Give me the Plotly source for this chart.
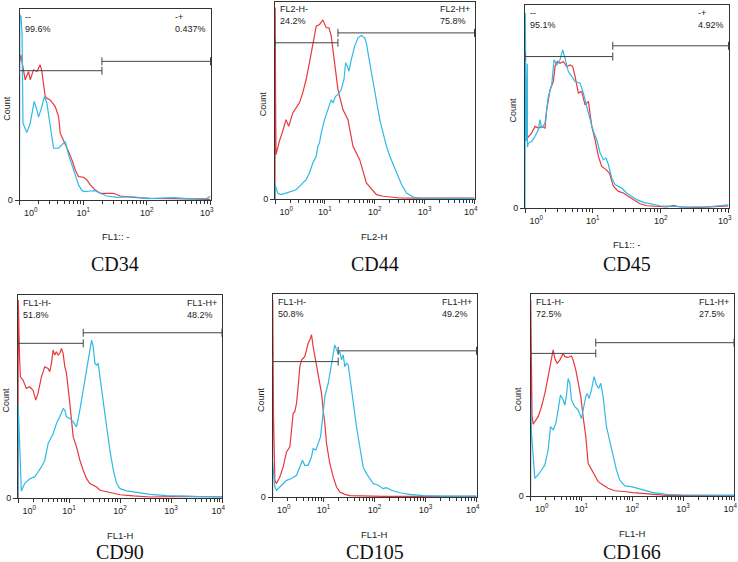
import plotly.graph_objects as go

# ---------------- data (x in log10 decades, y in relative count, box top = 100) ----------------
cd34_red_log = [0.0, 0.021, 0.089, 0.142, 0.168, 0.22, 0.273, 0.325, 0.351, 0.404, 0.43, 0.482, 0.561, 0.614, 0.64, 0.666, 0.718, 0.771, 0.823, 0.876, 0.928, 1.007, 1.059, 1.112, 1.19, 1.269, 1.479, 1.584, 1.793, 2.056, 2.423, 2.842, 3.0]
cd34_red_cnt = [72, 76, 62.9, 67.3, 62.9, 68.2, 67.3, 70.8, 67.3, 54.2, 53.3, 52.4, 48.9, 43.7, 35.0, 33.2, 29.7, 25.3, 21.0, 15.7, 12.2, 11.9, 10.5, 7.9, 5.2, 3.5, 3.5, 2.1, 1.4, 0.9, 0.7, 0.5, 0.3]
cd34_blue_log = [0.0, 0.005, 0.025, 0.04, 0.055, 0.115, 0.168, 0.231, 0.273, 0.299, 0.351, 0.393, 0.43, 0.482, 0.535, 0.614, 0.666, 0.718, 0.771, 0.823, 0.876, 0.928, 0.981, 1.033, 1.112, 1.19, 1.269, 1.374, 1.531, 1.689, 1.793, 2.003, 2.423, 2.632, 2.947, 3.0]
cd34_blue_cnt = [0, 97, 96, 86, 40.2, 35.3, 40.2, 51.6, 47.2, 43.4, 48.9, 54.2, 50.7, 38.5, 27.1, 27.1, 28.8, 30.6, 23.6, 18.4, 14.0, 7.9, 4.9, 4.4, 4.7, 4.9, 3.5, 2.1, 1.4, 1.7, 1.7, 0.7, 1.2, 0.7, 0.9, 2.1]

cd44_red_log = [0, 0.004, 0.012, 0.02, 0.087, 0.154, 0.221, 0.275, 0.356, 0.423, 0.49, 0.557, 0.624, 0.691, 0.758, 0.826, 0.893, 0.96, 1.027, 1.081, 1.128, 1.195, 1.262, 1.362, 1.463, 1.564, 1.698, 1.832, 2.034, 2.168, 2.503, 2.839, 4.0]
cd44_red_cnt = [0, 97, 50, 22.5, 29.2, 34.3, 40.2, 36.8, 43.6, 46.1, 48.7, 53.7, 60.5, 69.0, 79.1, 87.5, 88.4, 90.6, 86.7, 86.7, 82.5, 69.0, 55.4, 45.3, 40.2, 26.7, 19.9, 8.1, 2.2, 1.4, 0.5, 0.4, 0.4]
cd44_blue_log = [0, 0.003, 0.054, 0.121, 0.221, 0.322, 0.423, 0.49, 0.557, 0.624, 0.691, 0.758, 0.826, 0.859, 0.893, 0.926, 0.993, 1.06, 1.128, 1.161, 1.215, 1.262, 1.329, 1.383, 1.416, 1.45, 1.483, 1.53, 1.597, 1.664, 1.732, 1.799, 1.832, 1.899, 1.966, 2.034, 2.101, 2.168, 2.235, 2.302, 2.369, 2.436, 2.537, 2.638, 2.772, 2.906, 3.174, 4.0]
cd44_blue_cnt = [0, 7.3, 3.0, 2.2, 3.0, 3.9, 4.7, 6.4, 8.1, 9.8, 13.2, 18.2, 21.6, 26.7, 28.4, 33.4, 40.2, 45.3, 50.3, 48.6, 52.0, 52.9, 55.4, 60.5, 69.0, 67.3, 64.7, 70.6, 77.4, 81.6, 82.8, 81.6, 79.1, 69.0, 58.8, 50.3, 40.2, 33.4, 26.7, 21.6, 17.4, 13.2, 7.3, 3.0, 1.0, 0.4, 0.3, 0.3]

cd45_red_log = [0.02, 0.049, 0.098, 0.148, 0.197, 0.246, 0.295, 0.32, 0.369, 0.418, 0.443, 0.477, 0.516, 0.566, 0.615, 0.664, 0.703, 0.738, 0.787, 0.836, 0.885, 0.935, 0.984, 1.033, 1.082, 1.131, 1.195, 1.244, 1.303, 1.377, 1.451, 1.525, 1.599, 1.697, 1.795, 1.943, 2.09, 2.189, 2.287, 2.582, 2.976, 3.0]
cd45_red_cnt = [34, 35.3, 36.9, 40.2, 39.4, 40.2, 39.4, 48.4, 58.2, 62.3, 69.7, 72.2, 71.3, 72.2, 69.7, 70.5, 69.7, 64.8, 56.6, 57.4, 50.8, 52.5, 40.2, 33.6, 25.4, 20.5, 18.9, 17.2, 10.7, 8.2, 7.4, 5.7, 4.1, 2.1, 1.1, 0.8, 0.5, 1.3, 0.5, 0.3, 0.8, 1.0]
cd45_blue_log = [0, 0.004, 0.02, 0.034, 0.036, 0.049, 0.098, 0.148, 0.197, 0.221, 0.246, 0.295, 0.344, 0.394, 0.428, 0.467, 0.516, 0.556, 0.59, 0.639, 0.689, 0.738, 0.812, 0.861, 0.91, 0.959, 1.008, 1.058, 1.107, 1.156, 1.195, 1.23, 1.279, 1.328, 1.377, 1.426, 1.5, 1.574, 1.648, 1.746, 1.845, 1.992, 2.189, 2.386, 2.681, 2.976, 3.0]
cd45_blue_cnt = [0, 96, 33, 71, 30, 32.0, 32.8, 35.3, 38.5, 43.5, 39.4, 41.8, 54.9, 60.7, 73.0, 70.5, 73.0, 77.9, 73.8, 67.2, 64.8, 62.3, 61.5, 56.6, 50.0, 43.5, 37.7, 33.6, 27.1, 23.8, 24.6, 21.3, 14.8, 11.5, 10.7, 9.8, 7.4, 5.7, 4.1, 2.8, 2.1, 1.1, 0.8, 0.5, 0.5, 1.1, 1.5]

cd90_red_log = [0, 0.005, 0.03, 0.046, 0.098, 0.164, 0.23, 0.295, 0.348, 0.393, 0.459, 0.525, 0.59, 0.623, 0.656, 0.689, 0.721, 0.754, 0.787, 0.82, 0.852, 0.885, 0.918, 0.951, 1.016, 1.082, 1.148, 1.213, 1.279, 1.344, 1.41, 1.541, 1.607, 1.738, 1.869, 2.0, 2.262, 2.59, 3.246, 4.0]
cd90_red_cnt = [0, 97.5, 70, 59.7, 58.1, 54.0, 54.8, 53.1, 48.2, 51.5, 59.7, 64.6, 63.8, 62.2, 66.3, 72.9, 70.4, 72.1, 70.4, 71.2, 73.7, 71.2, 64.6, 61.4, 46.6, 30.1, 25.2, 18.6, 13.7, 9.5, 7.1, 5.4, 3.8, 3.0, 2.1, 1.6, 1.0, 0.5, 0.8, 0.5]
cd90_blue_log = [0, 0.003, 0.066, 0.131, 0.23, 0.328, 0.393, 0.459, 0.525, 0.59, 0.656, 0.689, 0.754, 0.82, 0.885, 0.918, 0.951, 1.016, 1.082, 1.148, 1.213, 1.279, 1.344, 1.397, 1.443, 1.475, 1.508, 1.541, 1.574, 1.607, 1.672, 1.738, 1.803, 1.869, 1.934, 2.0, 2.131, 2.262, 2.59, 2.918, 3.246, 3.574, 4.0]
cd90_blue_cnt = [0, 46.6, 3.5, 7.1, 9.5, 10.4, 12.8, 15.3, 18.6, 26.8, 30.1, 31.7, 36.7, 40.0, 44.1, 43.3, 40.0, 39.2, 37.5, 35.0, 43.3, 53.1, 64.6, 71.2, 77.8, 74.5, 66.3, 65.5, 66.3, 59.7, 46.6, 35.0, 23.5, 13.7, 7.1, 4.6, 3.5, 3.0, 1.8, 1.2, 0.8, 0.7, 0.7]

cd105_red_log = [0, 0.005, 0.02, 0.046, 0.078, 0.144, 0.209, 0.242, 0.275, 0.34, 0.373, 0.405, 0.438, 0.471, 0.503, 0.536, 0.569, 0.601, 0.634, 0.667, 0.699, 0.732, 0.765, 0.797, 0.83, 0.863, 0.895, 0.928, 0.961, 0.993, 1.026, 1.059, 1.124, 1.19, 1.255, 1.32, 1.418, 1.516, 1.843, 2.17, 4.0]
cd105_red_cnt = [0, 97, 40, 8.2, 6.6, 9.9, 14.8, 18.1, 22.2, 24.7, 32.9, 41.2, 42.0, 46.1, 54.4, 64.2, 67.5, 68.4, 69.2, 72.5, 75.8, 77.4, 79.9, 74.1, 69.2, 64.2, 59.3, 56.0, 51.1, 42.8, 36.2, 26.4, 16.5, 9.9, 4.9, 2.5, 1.3, 0.7, 0.4, 0.3, 0.3]
cd105_blue_log = [0, 0.003, 0.046, 0.078, 0.144, 0.209, 0.275, 0.373, 0.471, 0.536, 0.588, 0.634, 0.699, 0.765, 0.797, 0.85, 0.895, 0.941, 0.993, 1.026, 1.092, 1.157, 1.222, 1.255, 1.288, 1.32, 1.353, 1.386, 1.418, 1.451, 1.484, 1.516, 1.582, 1.647, 1.712, 1.778, 1.843, 1.908, 1.974, 2.072, 2.17, 2.235, 2.333, 2.497, 2.693, 2.954, 3.346, 4.0]
cd105_blue_cnt = [0, 17.3, 4.9, 3.3, 4.9, 6.6, 8.2, 9.1, 10.7, 14.8, 18.1, 15.6, 15.6, 19.8, 23.9, 23.1, 26.4, 29.6, 41.2, 49.4, 56.0, 65.9, 74.9, 72.5, 70.8, 71.6, 67.5, 70.0, 64.2, 65.9, 65.1, 59.3, 46.1, 34.6, 24.7, 14.8, 11.5, 9.1, 6.6, 5.8, 4.1, 4.6, 3.3, 2.1, 1.3, 0.7, 0.4, 0.4]

cd166_red_log = [0, 0.005, 0.03, 0.052, 0.085, 0.151, 0.216, 0.282, 0.347, 0.412, 0.445, 0.478, 0.524, 0.576, 0.642, 0.674, 0.74, 0.805, 0.838, 0.89, 0.936, 0.989, 1.034, 1.087, 1.133, 1.198, 1.264, 1.329, 1.427, 1.525, 1.656, 1.754, 1.885, 2.016, 2.213, 2.409, 2.671, 4.0]
cd166_red_cnt = [0, 97.2, 40, 35.6, 36.8, 39.3, 44.2, 50.8, 59.1, 67.3, 72.3, 68.1, 65.7, 67.3, 70.6, 69.0, 68.6, 69.3, 67.3, 62.4, 55.8, 49.2, 39.3, 29.4, 16.2, 12.9, 9.6, 7.1, 5.4, 3.8, 2.6, 2.5, 2.1, 1.7, 1.3, 0.8, 0.3, 0.3]
cd166_blue_log = [0, 0.003, 0.02, 0.085, 0.151, 0.216, 0.282, 0.347, 0.393, 0.445, 0.498, 0.543, 0.589, 0.642, 0.674, 0.707, 0.74, 0.773, 0.805, 0.871, 0.936, 1.002, 1.034, 1.087, 1.113, 1.152, 1.198, 1.25, 1.296, 1.342, 1.381, 1.427, 1.493, 1.558, 1.624, 1.689, 1.754, 1.853, 1.984, 2.082, 2.213, 2.409, 2.671, 2.998, 4.0]
cd166_blue_cnt = [0, 49.5, 31, 8.7, 10.4, 12.9, 15.3, 22.8, 34.3, 32.7, 36.0, 42.6, 50.0, 47.5, 45.0, 50.0, 58.2, 55.8, 47.5, 44.2, 42.6, 38.4, 42.6, 49.2, 50.8, 48.3, 52.5, 59.1, 54.9, 53.3, 55.8, 49.2, 34.3, 27.7, 19.5, 12.9, 7.9, 5.0, 4.6, 3.8, 3.0, 1.7, 0.8, 0.5, 0.3]

captions = ["CD34", "CD44", "CD45", "CD90", "CD105", "CD166"]
x_titles = ["FL1:: -", "FL2-H", "FL1:: -", "FL1-H", "FL1-H", "FL1-H"]
n_decades = [3, 4, 3, 4, 4, 4]
neg_names = ["--", "FL2-H-", "--", "FL1-H-", "FL1-H-", "FL1-H-"]
pos_names = ["-+", "FL2-H+", "-+", "FL1-H+", "FL1-H+", "FL1-H+"]
neg_pct = ["99.6%", "24.2%", "95.1%", "51.8%", "50.8%", "72.5%"]
pos_pct = ["0.437%", "75.8%", "4.92%", "48.2%", "49.2%", "27.5%"]
gate_split_log = [1.295, 1.262, 1.294, 1.279, 1.288, 1.283]
gate_neg_level = [67.7, 79.1, 74.6, 76.2, 66.7, 70.6]
gate_pos_level = [72.6, 84.1, 79.9, 81.4, 72.0, 75.9]

red_series = [(cd34_red_log, cd34_red_cnt), (cd44_red_log, cd44_red_cnt), (cd45_red_log, cd45_red_cnt),
              (cd90_red_log, cd90_red_cnt), (cd105_red_log, cd105_red_cnt), (cd166_red_log, cd166_red_cnt)]
blue_series = [(cd34_blue_log, cd34_blue_cnt), (cd44_blue_log, cd44_blue_cnt), (cd45_blue_log, cd45_blue_cnt),
               (cd90_blue_log, cd90_blue_cnt), (cd105_blue_log, cd105_blue_cnt), (cd166_blue_log, cd166_blue_cnt)]

# ---------------- layout ----------------
W, H = 738, 562
RED = "#e8383d"
BLUE = "#2fb9e6"
AX = "#333333"
SANS = "Liberation Sans, Arial, sans-serif"
SERIF = "Liberation Serif, Times New Roman, serif"
# plot boxes in pixels: left, right, top, bottom
boxes = [(19.5, 210.5, 9, 200), (275, 474.5, 1.5, 199), (525, 728.5, 5, 208),
         (18, 222, 295, 498), (272.5, 476.5, 294, 497), (530.5, 734, 294, 496)]
caption_y = [264, 264, 264, 552, 552, 552]

fig = go.Figure()
shapes = []
annotations = []
layout_axes = {}

for i in range(6):
    n = i + 1
    xa = "x" if n == 1 else f"x{n}"
    ya = "y" if n == 1 else f"y{n}"
    l, r, t, b = boxes[i]
    nd = n_decades[i]
    ticktext = []
    for k in range(nd + 1):
        s = f"10<sup>{k}</sup>"
        if k == 0:
            s = "\u00a0" * 9 + s
        elif k == nd:
            s = s + "\u00a0" * 3
        ticktext.append(s)
    layout_axes["xaxis" if n == 1 else f"xaxis{n}"] = dict(
        type="log", range=[0, nd], domain=[l / W, r / W], anchor=ya, automargin=False,
        showline=True, mirror=True, linecolor=AX, linewidth=1,
        ticks="outside", ticklen=4, tickwidth=1, tickcolor=AX,
        tickvals=[10 ** k for k in range(nd + 1)], ticktext=ticktext,
        ticklabeloverflow="allow",
        tickfont=dict(family=SANS, size=9, color="#222"),
        showgrid=False, zeroline=False, fixedrange=True,
        minor=dict(tickvals=[m * 10 ** k for k in range(nd) for m in range(2, 10)],
                   ticks="outside", ticklen=2.5, tickwidth=1, tickcolor=AX, showgrid=False),
    )
    layout_axes["yaxis" if n == 1 else f"yaxis{n}"] = dict(
        range=[0, 100], domain=[1 - b / H, 1 - t / H], anchor=xa, automargin=False,
        showline=True, mirror=True, linecolor=AX, linewidth=1,
        ticks="outside", ticklen=4, tickcolor=AX, tickvals=[0], ticktext=["0"],
        ticklabeloverflow="allow",
        tickfont=dict(family=SANS, size=9, color="#222"),
        showgrid=False, zeroline=False, fixedrange=True,
    )

    for (lx, cy), col in ((red_series[i], RED), (blue_series[i], BLUE)):
        fig.add_trace(go.Scatter(
            x=[10 ** v for v in lx], y=cy, mode="lines",
            line=dict(color=col, width=1.2), xaxis=xa, yaxis=ya,
            showlegend=False, hoverinfo="skip"))

    # gates
    xd = f"{xa} domain"
    yd = f"{ya} domain"
    s = gate_split_log[i] / nd
    yn = gate_neg_level[i] / 100
    yp = gate_pos_level[i] / 100
    hh = 4 / (b - t)
    gl = dict(color="#444", width=1)
    for (x0, x1, yy) in ((0, s, yn), (s, 1, yp)):
        shapes.append(dict(type="line", xref=xd, yref=yd, x0=x0, x1=x1, y0=yy, y1=yy, line=gl))
        shapes.append(dict(type="line", xref=xd, yref=yd, x0=x0, x1=x0, y0=yy - hh, y1=yy + hh, line=gl))
        shapes.append(dict(type="line", xref=xd, yref=yd, x0=x1, x1=x1, y0=yy - hh, y1=yy + hh, line=gl))

    lab_font = dict(family=SANS, size=9, color="#222")
    annotations.append(dict(text=f"{neg_names[i]}<br>{neg_pct[i]}", xref=xd, yref=yd, x=0, y=1,
                            xanchor="left", yanchor="top", xshift=3, yshift=-1, align="left",
                            showarrow=False, font=lab_font))
    annotations.append(dict(text=f"{pos_names[i]}<br>{pos_pct[i]}", xref=xd, yref=yd, x=1, y=1,
                            xanchor="right", yanchor="top", xshift=-3, yshift=-1, align="left",
                            showarrow=False, font=lab_font))
    annotations.append(dict(text="Count", xref=xd, yref=yd, x=0, y=0.48, xshift=-12,
                            xanchor="center", yanchor="middle", textangle=-90,
                            showarrow=False, font=dict(family=SANS, size=9, color="#222")))
    annotations.append(dict(text=x_titles[i], xref=xd, yref=yd, x=0.5, y=0, yshift=-37,
                            xanchor="center", yanchor="middle",
                            showarrow=False, font=dict(family=SANS, size=9.5, color="#222")))
    annotations.append(dict(text=captions[i], xref=xd, yref="paper", x=0.5, y=1 - caption_y[i] / H,
                            xanchor="center", yanchor="middle",
                            showarrow=False, font=dict(family=SERIF, size=20, color="#111")))

fig.update_layout(
    width=W, height=H, margin=dict(l=0, r=0, t=0, b=0, autoexpand=False),
    paper_bgcolor="white", plot_bgcolor="white",
    shapes=shapes, annotations=annotations, **layout_axes)

fig.write_html("out.html", config={"displayModeBar": False},
               post_script="document.body.style.margin='0';document.body.style.overflow='hidden';")
